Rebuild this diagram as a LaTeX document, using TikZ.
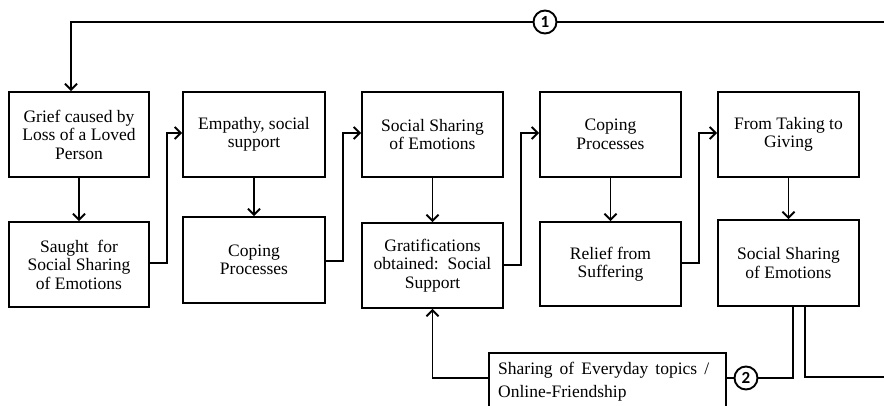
\documentclass[tikz,border=0pt]{standalone}
\usepackage{fontspec}
\setmainfont{Liberation Serif}
\newfontfamily\numfont{Carlito}
\usetikzlibrary{arrows.meta}
\tikzset{
  box/.style={draw, line width=1.9pt, align=center, inner sep=0pt,
    font=\rmfamily\fontsize{17.5}{18.5}\selectfont},
  conn/.style={line width=1.9pt},
  arr/.style={conn, -{Straight Barb[length=6pt,width=12pt,line width=1.9pt]}},
  num/.style={draw, circle, line width=1.9pt, minimum size=23pt, inner sep=0pt,
    font=\numfont\bfseries\fontsize{17}{17}\selectfont},
  txt/.style={inner sep=0pt, font=\rmfamily\fontsize{17.5}{22.5}\selectfont}
}
\begin{document}
\begin{tikzpicture}[x=1pt,y=-1pt]
\useasboundingbox (0,0) rectangle (884,405);
\clip (0,0) rectangle (884,405);
% top row
\node[box, minimum width=140pt, minimum height=85pt] (b1) at (79,134.5) {Grief caused by\\Loss of a Loved\\Person};
\node[box, minimum width=142pt, minimum height=85pt] (b2) at (254,134.5) {Empathy, social\\support};
\node[box, minimum width=141pt, minimum height=85pt] (b3) at (432.5,134.5) {Social Sharing\\of Emotions};
\node[box, minimum width=141pt, minimum height=85pt] (b4) at (610.5,134.5) {Coping\\Processes};
\node[box, minimum width=141pt, minimum height=85pt] (b5) at (788.5,134.5) {From Taking to\\Giving};
% bottom row
\node[box, minimum width=140pt, minimum height=85pt] (c1) at (79,264.5) {Saught\ \ for\\Social Sharing\\of Emotions};
\node[box, minimum width=142pt, minimum height=86pt] (c2) at (254,260) {Coping\\Processes};
\node[box, minimum width=141pt, minimum height=85pt] (c3) at (432.5,265.5) {Gratifications\\obtained:\ \ Social\\Support};
\node[box, minimum width=141pt, minimum height=84pt] (c4) at (610.5,264) {Relief from\\Suffering};
\node[box, minimum width=141pt, minimum height=86pt] (c5) at (788.5,263) {Social Sharing\\of Emotions};
% sharing box
\node[box, minimum width=237pt, minimum height=67pt] (s) at (607.5,386.5) {};
\node[txt, anchor=west, align=left] (st) at (498,381.5) {\makebox[211pt][s]{Sharing of Everyday topics /}\\Online-Friendship};
% circles
\node[num] (n1) at (545,22) {1};
\node[num] (n2) at (746,378) {2};
\coordinate (r1) at (884,22);
\coordinate (r2) at (884,377);
% loop 1
\draw[conn] (r1) -- (n1);
\draw[arr] (n1) -- (71,22) -- (b1.north -| 71,0);
% vertical arrows
\draw[arr] (b1) -- (c1);
\draw[arr] (b2) -- (c2);
\draw[arr] (b3) -- (c3);
\draw[arr] (b4) -- (c4);
\draw[arr] (b5) -- (c5);
% step connectors
\draw[arr] (c1.east |- 0,263) -- (167,263) -- (167,133) -- (b2.west |- 0,133);
\draw[arr] (c2.east |- 0,261) -- (343,261) -- (343,133) -- (b3.west |- 0,133);
\draw[arr] (c3.east |- 0,265) -- (521,265) -- (521,133) -- (b4.west |- 0,133);
\draw[arr] (c4.east |- 0,263) -- (699,263) -- (699,133) -- (b5.west |- 0,133);
% loop 2
\draw[arr] (s.west |- 0,378) -| (c3.south);
\draw[conn] (s.east |- 0,378) -- (n2);
\draw[conn] (n2) -- (793,378) -- (c5.south -| 793,0);
\draw[conn] (c5.south -| 805,0) |- (r2);
\end{tikzpicture}
\end{document}
